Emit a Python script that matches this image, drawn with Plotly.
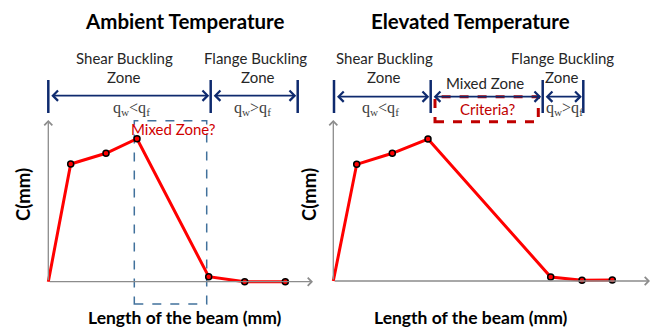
import plotly.graph_objects as go

W, H = 657, 328

# ---- data (arbitrary length / C units) ----
amb_len = [0, 22.4, 57.7, 88.7, 160.4, 196.4, 237.0]
amb_c = [0, 117.7, 128.4, 143.0, 5.0, 0.0, 0.0]
ele_len = [0, 23.4, 59.0, 94.7, 217.4, 248.7, 279.0]
ele_c = [0, 116.7, 127.7, 142.0, 4.0, 0.7, 1.0]

amb_zone_bounds = [0, 162.4, 249.4]
ele_zone_bounds = [0.7, 97.4, 209.4, 250.0]
amb_mixed_box = [86.0, 158.4]
ele_mixed_box = [101.7, 205.0]

titles = ["Ambient Temperature", "Elevated Temperature"]
x_label = "Length of the beam (mm)"
y_label = "C(mm)"

SANS = "Lato, 'Open Sans', sans-serif"
SERIF = "'Liberation Serif', serif"
NAVY = "#0E2A6E"
RED = "#FF0000"
DRED = "#C00000"
GRAY = "#8C8C8C"
TXT = "#262626"


def pxx(x):
    return x / W


def pyy(y):
    return 1 - y / H


fig = go.Figure()

# curves
for xs, ys, xa, ya in [(amb_len, amb_c, "x", "y"), (ele_len, ele_c, "x2", "y2")]:
    fig.add_trace(go.Scatter(x=xs, y=ys, mode="lines", line=dict(color=RED, width=3),
                             xaxis=xa, yaxis=ya, hoverinfo="skip", showlegend=False))
    fig.add_trace(go.Scatter(x=xs[1:], y=ys[1:], mode="markers",
                             marker=dict(color=RED, size=6, line=dict(color="black", width=1.5)),
                             xaxis=xa, yaxis=ya, hoverinfo="skip", showlegend=False))

annotations = []
shapes = []

# axes arrows
for xa, ya, xlen, ylen in [("x", "y", 264.7, 161.7), ("x2", "y2", 316.7, 161.0)]:
    for (x, y) in [(xlen, 0), (0, ylen)]:
        annotations.append(dict(x=x, y=y, ax=0, ay=0, xref=xa, yref=ya, axref=xa, ayref=ya,
                                text="", showarrow=True, arrowhead=4, arrowsize=1.2,
                                arrowwidth=1.3, arrowcolor=GRAY, standoff=0, startstandoff=0))

# zone dimension lines
for bounds, xa, ya, ydim in [(amb_zone_bounds, "x", "y", 186.0), (ele_zone_bounds, "x2", "y2", 184.3)]:
    for b in bounds:
        shapes.append(dict(type="line", xref=xa, yref="paper", x0=b, x1=b,
                           y0=pyy(113), y1=pyy(80), line=dict(color=NAVY, width=2.5)))
    for a, b in zip(bounds[:-1], bounds[1:]):
        annotations.append(dict(x=b - 1.5, y=ydim, ax=a + 1.5, ay=ydim, xref=xa, yref=ya,
                                axref=xa, ayref=ya, text="", showarrow=True, arrowhead=4,
                                arrowside="end+start", arrowsize=1.1, arrowwidth=1.8,
                                arrowcolor=NAVY, standoff=0, startstandoff=0))

# mixed zone boxes
shapes.append(dict(type="rect", xref="x", yref="y", x0=amb_mixed_box[0], x1=amb_mixed_box[1],
                   y0=-22.3, y1=161.0, line=dict(color="#41719C", width=1.5, dash="dash"),
                   layer="below"))
shapes.append(dict(type="rect", xref="x2", yref="y2", x0=ele_mixed_box[0], x1=ele_mixed_box[1],
                   y0=159.3, y1=184.3, line=dict(color=DRED, width=3, dash="dash")))


def txt(text, x, y, size, color=TXT, family=SANS, angle=0):
    annotations.append(dict(text=text, x=pxx(x), y=pyy(y), xref="paper", yref="paper",
                            showarrow=False, xanchor="center", yanchor="middle", textangle=angle,
                            font=dict(family=family, size=size, color=color)))


# titles
txt("<b>" + titles[0] + "</b>", 184, 21, 20.5, "black")
txt("<b>" + titles[1] + "</b>", 470, 21, 20.5, "black")

# zone labels
txt("Shear Buckling", 124, 58, 15)
txt("Zone", 124, 77, 15)
txt("Flange Buckling", 255.5, 58, 15)
txt("Zone", 258, 77, 15)
txt("Shear Buckling", 384.5, 58, 15)
txt("Zone", 384, 77, 15)
txt("Flange Buckling", 562, 58, 15)
txt("Zone", 561.5, 77, 15)
txt("Mixed Zone", 484.5, 83, 15)

qlt = "q<sub>w</sub>&lt;q<sub>f</sub>"
qgt = "q<sub>w</sub>&gt;q<sub>f</sub>"
txt(qlt, 131.5, 108, 16, "#404040", SERIF)
txt(qgt, 252.5, 108, 16, "#404040", SERIF)
txt(qlt, 380, 108, 16, "#404040", SERIF)
txt(qgt, 564.5, 108, 16, "#404040", SERIF)

txt("Mixed Zone?", 173, 129, 15, "#D00000")
txt("Criteria?", 487, 109, 15, DRED)

# axis labels
txt("<b>" + y_label + "</b>", 23, 195, 18.5, "black", angle=-90)
txt("<b>" + y_label + "</b>", 309, 195, 18.5, "black", angle=-90)
txt("<b>" + x_label + "</b>", 185, 317, 17.5, "black")
txt("<b>" + x_label + "</b>", 471, 317, 17.5, "black")

axis_common = dict(visible=False, showgrid=False, zeroline=False, fixedrange=True)
fig.update_layout(
    width=W, height=H,
    margin=dict(l=0, r=0, t=0, b=0),
    paper_bgcolor="white", plot_bgcolor="white",
    showlegend=False,
    xaxis=dict(domain=[0, 328.5 / W], range=[-48.3, 280.2], **axis_common),
    yaxis=dict(domain=[0, 1], range=[-46.3, 281.7], **axis_common),
    xaxis2=dict(domain=[328.5 / W, 1], range=[-4.8, 323.7], **axis_common),
    yaxis2=dict(domain=[0, 1], range=[-47.0, 281.0], anchor="x2", **axis_common),
    annotations=annotations,
    shapes=shapes,
)

fig.write_html("out.html", config={"displayModeBar": False},
               post_script="document.body.style.margin='0px';document.body.style.overflow='hidden';")
